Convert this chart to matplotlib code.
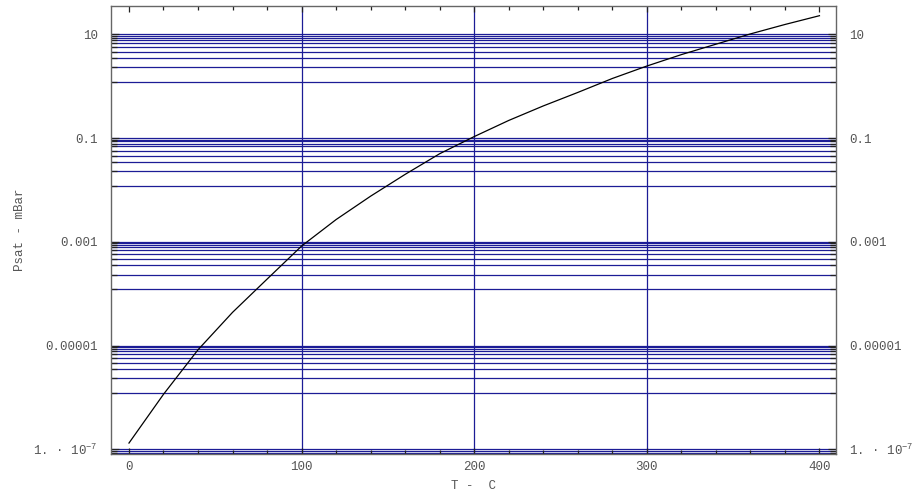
import matplotlib
matplotlib.use('Agg')
import matplotlib.pyplot as plt
import numpy as np

# temperature (C) and saturation pressure (mBar)
temp = [0, 20, 40, 60, 80, 100, 120, 140, 160, 180, 200,
        220, 240, 260, 280, 300, 320, 340, 360, 380, 400]
psat = [1.32e-7, 1.15e-6, 8.3e-6, 4.37e-5, 1.91e-4, 8.3e-4, 2.69e-3, 7.6e-3,
        0.020, 0.050, 0.107, 0.219, 0.417, 0.759, 1.41, 2.45, 4.07, 6.46,
        10.2, 15.5, 22.9]

# labelled decades and their labels
decades = [1e1, 1e-1, 1e-3, 1e-5, 1e-7]
dec_labels = ['10', '0.1', '0.001', '0.00001', '1. · 10$^{-7}$']
# horizontal grid lines below each labelled decade (fraction of the decade value)
grid_frac = [1, 0.931, 0.863, 0.780, 0.692, 0.573, 0.457, 0.350, 0.234, 0.121]
vgrid = [100, 200, 300]

plt.rcParams['font.family'] = ['Liberation Mono', 'DejaVu Sans Mono']
plt.rcParams['mathtext.default'] = 'regular'

fig = plt.figure(figsize=(9.16, 4.98), dpi=100)
ax = fig.add_axes([0.1212, 0.0884, 0.7915, 0.9002])
ax.set_yscale('log')

gridc = '#1c1c96'
hlines = [d * f for d in decades for f in grid_frac]
for h in hlines:
    ax.axhline(h, color=gridc, lw=0.9, zorder=1)
for v in vgrid:
    ax.axvline(v, color=gridc, lw=0.9, zorder=1)

ax.plot(temp, psat, color='black', lw=0.9, zorder=3)

txtc = '#555555'
ax.set_xticks(np.arange(0, 401, 100))
ax.set_xticks(np.arange(0, 401, 20), minor=True)
ax.set_yticks(decades)
ax.set_yticklabels(dec_labels)
ax.set_yticks(hlines, minor=True)
ax.yaxis.set_minor_formatter(matplotlib.ticker.NullFormatter())

ax.set_xlim(-10.4, 409.6)
ax.set_ylim(10 ** -7.09, 10 ** 1.553)

ax.tick_params(which='both', direction='in', top=True, right=True,
               labelright=True, colors='#222222', labelcolor=txtc,
               labelsize=9, width=0.9)
ax.tick_params(axis='x', which='major', length=4, pad=5)
ax.tick_params(axis='x', which='minor', length=3)
ax.tick_params(axis='y', which='major', length=6, pad=9.5)
ax.tick_params(axis='y', which='minor', length=4)

for s in ax.spines.values():
    s.set_color('#666666')
    s.set_linewidth(1.0)

ax.set_xlabel('T -  C', color=txtc, fontsize=9, labelpad=5)
ax.set_ylabel('Psat - mBar', color=txtc, fontsize=9)
ax.yaxis.set_label_coords(-0.117, 0.5)

plt.savefig('out.png', dpi=100)
